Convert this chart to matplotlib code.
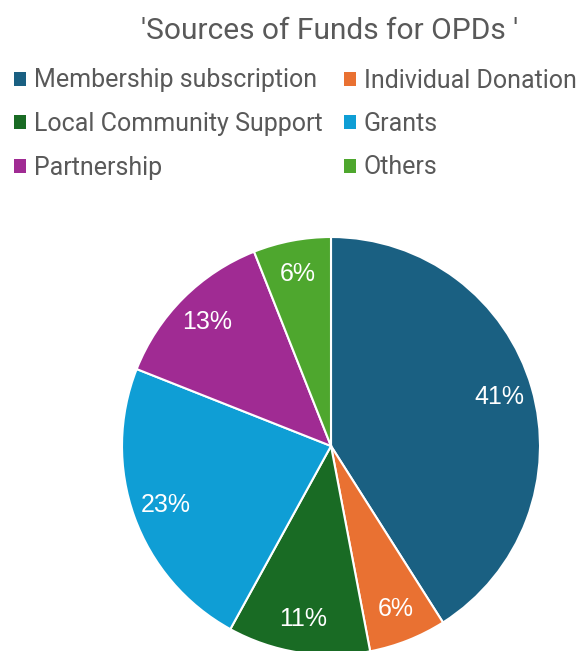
import matplotlib
matplotlib.use("Agg")
import matplotlib.pyplot as plt

categories = ["Membership subscription", "Individual Donation", "Local Community Support",
              "Grants", "Partnership", "Others"]
shares = [41, 6, 11, 23, 13, 6]
colors = ["#1A6082", "#E97132", "#196B24", "#0F9ED5", "#A02B93", "#4EA72E"]

TEXT_GREY = "#595959"
plt.rcParams["font.family"] = ["Roboto", "DejaVu Sans"]

W, H = 584, 651
fig = plt.figure(figsize=(W / 100, H / 100), dpi=100)

# pie centred at (331, 446) px, radius 209 px
cx, cy, r = 331, 446, 209
ax = fig.add_axes([(cx - r) / W, (H - cy - r) / H, 2 * r / W, 2 * r / H])
wedges, _, autotexts = ax.pie(
    shares, colors=colors, startangle=90, counterclock=False,
    autopct="%1.0f%%", pctdistance=0.84,
    wedgeprops=dict(edgecolor="white", linewidth=1.5),
    textprops=dict(color="white", fontsize=18, family=["Liberation Sans", "DejaVu Sans"]),
)
ax.set_xlim(-1, 1)
ax.set_ylim(-1, 1)
ax.set_aspect("equal")

fig.text(330 / W, 1 - 31 / H, "'Sources of Funds for OPDs '", ha="center", va="center",
         fontsize=21.5, color=TEXT_GREY)

# row-major order: two entries per row
order = [0, 2, 4, 1, 3, 5]
leg = fig.legend([wedges[i] for i in order], [categories[i] for i in order],
                 ncol=2, loc="upper left", bbox_to_anchor=(-0.006, 1 - 51 / H),
                 frameon=False, fontsize=18, labelcolor=TEXT_GREY,
                 handlelength=0.5, handleheight=0.5, handletextpad=0.3,
                 columnspacing=0.85, labelspacing=0.78, borderaxespad=0.3)
for h in leg.legend_handles:
    h.set_edgecolor("none")

fig.savefig("out.png", dpi=100)
